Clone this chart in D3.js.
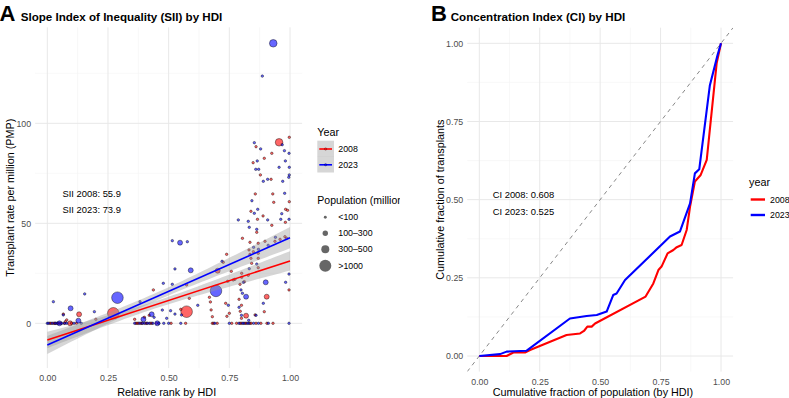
<!DOCTYPE html>
<html><head><meta charset="utf-8">
<script src="https://cdn.jsdelivr.net/npm/d3@7"></script>
<style>body{margin:0;background:#fff} text{font-family:"Liberation Sans",Arial,Helvetica,sans-serif}</style>
</head><body><svg id="c" width="789" height="398"></svg>
<script>
// ---------- DATA ----------
const yearLabels = ["2008", "2023"];
const sizeLabels = ["<100", "100–300", "300–500", ">1000"];
// [relative HDI rank, transplant rate PMP, population class 0..3]
const points2008 = [
 [.955,90.5,2],[.997,93,0],[.860,88.3,0],[.925,85,0],[.894,82.5,0],[.848,80.3,0],[.878,74.2,0],[.922,72,0],
 [.857,64.7,0],[.929,64.7,0],[.933,60.5,0],[.997,60.8,0],[.839,56,0],[.982,57,0],[.99,56.5,0],[.889,53.7,0],
 [.866,52,0],[.925,49,0],[.981,50.5,0],[.863,45.5,0],[.804,42.5,0],[.835,40.5,0],[.869,40,0],[.897,41,0],
 [.938,41,0],[.959,42,0],[.979,43.3,0],[.986,42.5,0],[.849,35.8,0],[.831,36.7,0],[.869,35,0],[.835,34.5,0],
 [.839,32.5,0],[.869,32.5,0],[.842,30,0],[.869,27.8,0],[.801,25,0],[.828,24,0],[.773,22,0],[.801,23,0],
 [.812,20.8,0],[.794,19.5,0],[.996,16.7,0],[.904,13.3,1],[.819,3.8,1],[.894,5.8,0],[.856,4.2,0],[.75,5,0],
 [.74,3.5,0],[.735,10,0],[.743,21,0],[.766,21.7,0],[.79,12,0],[.80,9,0],[.795,6,0],[.80,2.5,0],
 [.08,1.7,0],[.131,4.5,1],[.094,0,1],[.066,4.6,0],[.074,0.8,0],[.272,5,3],[.437,16.7,0],[.40,3,0],
 [.574,5.8,3],[.585,12.5,0],[.574,19.2,0],[.702,26.3,1],[.725,30.5,0],[.739,34.5,0],[.668,13,0],[.672,10.7,0],
 [.675,6.7,0],[.68,3.3,0],[.758,26,0],[.36,2,0],[.42,4,0],[.55,7,0],[.2,2,0],
 [.93,0,0],[.905,0,0],[.88,0,0],[.86,0,0],[.84,0,0],[.82,0,0],[.80,0,0],[.78,0,0],[.76,0,0],[.70,0,0],
 [.68,0,0],[.57,0,0],[.51,0,0],[.45,0,0],[.43,0,0],[.41,0,0],[.39,0,0],[.37,0,0],[.12,0,0],[.10,0,0],
 [.07,0,0],[.05,0,0],[.03,0,0],[.01,0,0],[.015,0,0],[.025,0,0],[.035,0,0],[.045,0,0],[.055,0,0],
 [.365,0,0],[.375,0,0],[.385,0,0],[.405,0,0],[.425,0,0],[.685,0,0],[.795,0,0],[.815,0,0],[.835,0,0]
];
const points2023 = [
 [.931,140,2],[.886,123.6,0],
 [.853,90.3,0],[.879,87.2,0],[.968,89.3,0],[.977,86.3,0],[.996,85,0],[.865,81.2,0],[.981,81.2,0],[.955,78,0],
 [.997,78,0],[.859,77,0],[.871,77,0],[.997,74.2,0],[.995,73,0],[.908,72,0],[.890,71,0],[.970,71,0],[.978,65,0],
 [.843,61.3,0],[.867,57,0],[.853,55,0],[.966,54.8,0],[.908,51.7,0],[.787,51.7,0],[.828,51,0],[.832,48,0],
 [.863,47,0],[.962,52,0],[.996,52,0],
 [.863,29.6,0],[.832,27.3,0],[.900,20.5,1],[.996,24.6,0],[.982,20.5,0],[.819,13.3,1],[.798,16.7,0],[.804,15,0],
 [.890,10,0],[.746,9,0],[.808,20.5,0],[.85,38,0],[.87,37,0],[.94,43,0],[.91,39,0],[.72,31,0],[.79,8,0],
 [.80,4,0],[.86,4,0],[.83,1.5,0],
 [.025,10.8,0],[.096,7.5,1],[.066,4.2,0],[.128,1.3,1],[.154,14.7,0],[.289,12.8,3],[.194,5.8,0],[.382,10.8,0],
 [.396,2,1],[.43,4.5,1],[.478,20,0],[.515,19.5,0],[.526,27.2,0],[.515,41.3,0],[.547,40.3,1],[.577,40.8,0],
 [.591,26.5,1],[.695,16.2,3],[.474,6.6,0],[.508,6.3,0],[.526,4.6,0],[.553,4.2,0],[.492,2.5,0],[.05,0,1],
 [.453,0,1],[.44,3,0],[.62,9,0],
 [.911,0,0],[.996,0,0],[.87,0,0],[.85,0,0],[.83,0,0],[.81,0,0],[.79,0,0],[.75,0,0],[.69,0,0],[.55,0,0],
 [.50,0,0],[.48,0,0],[.46,0,0],[.42,0,0],[.40,0,0],[.38,0,0],[.36,0,0],[.14,0,0],[.11,0,0],[.08,0,0],
 [.06,0,0],[.04,0,0],[.02,0,0],[0,0,0],[.005,0,0],[.032,0,0],[.072,0,0],[.392,0,0],[.412,0,0],[.435,0,0],
 [.805,0,0],[.825,0,0]
];
// linear fits (intercept, slope) and CI band shape
const fitIntercept = [-8.35, -10.8];
const fitSlope = [39.55, 53.6];
const bandMin = [1.8, 2.0];
const bandCenter = [0.45, 0.45];
const bandSpread = [0.22, 0.223];
const siiValues = ["55.9", "73.9"];
const ciValues = ["0.608", "0.525"];
// Concentration curves [cum. population, cum. transplants]
const lorenz2008 = [[0,0],[.113,0],[.141,.011],[.189,.011],[.210,.019],[.361,.067],[.417,.072],[.433,.080],
 [.447,.094],[.465,.094],[.479,.104],[.688,.190],[.720,.232],[.741,.275],[.754,.286],[.779,.328],[.803,.339],
 [.817,.348],[.837,.355],[.858,.403],[.872,.478],[.892,.558],[.916,.579],[.941,.627],[.982,.936],[1,1]];
const lorenz2023 = [[0,0],[.086,.006],[.113,.014],[.196,.017],[.375,.120],[.444,.128],[.486,.131],[.527,.142],
 [.554,.195],[.568,.200],[.603,.243],[.789,.382],[.830,.398],[.872,.488],[.892,.584],[.910,.597],[.954,.866],
 [.986,.963],[1,1]];
const xTicksA = [0, 0.25, 0.5, 0.75, 1];
const yTicksA = [0, 50, 100];
const ticksB = [0, 0.25, 0.5, 0.75, 1];

// ---------- STYLE ----------
const colors = ["#FF0000", "#0000FF"];
const radii = [1.25, 2.5, 3.8, 5.8];
const svg = d3.select("#c");
svg.append("rect").attr("width",789).attr("height",398).attr("fill","#fff");
svg.append("clipPath").attr("id","clipLeft").append("rect").attr("x",0).attr("y",0).attr("width",400).attr("height",398);

function grid(g, x, y, xt, yt, xr, yr) {
  const xm = d3.range(xt.length-1).map(i => (xt[i]+xt[i+1])/2);
  const ym = d3.range(yt.length-1).map(i => (yt[i]+yt[i+1])/2);
  const step = yt[1]-yt[0];
  ym.push(yt[yt.length-1] + step/2);
  g.selectAll(null).data(xm).join("line").attr("x1",x).attr("x2",x).attr("y1",yr[0]).attr("y2",yr[1])
    .attr("stroke","#f3f3f3").attr("stroke-width",0.6);
  g.selectAll(null).data(ym.filter(v => y(v) > yr[1] && y(v) < yr[0])).join("line").attr("y1",y).attr("y2",y).attr("x1",xr[0]).attr("x2",xr[1])
    .attr("stroke","#f3f3f3").attr("stroke-width",0.6);
  g.selectAll(null).data(xt).join("line").attr("x1",x).attr("x2",x).attr("y1",yr[0]).attr("y2",yr[1])
    .attr("stroke","#e8e8e8").attr("stroke-width",1);
  g.selectAll(null).data(yt).join("line").attr("y1",y).attr("y2",y).attr("x1",xr[0]).attr("x2",xr[1])
    .attr("stroke","#e8e8e8").attr("stroke-width",1);
}
function axes(x, y, xt, yt, xr, yr, fmtX, fmtY) {
  const ax = svg.append("g").attr("transform",`translate(0,${yr[0]})`)
    .call(d3.axisBottom(x).tickValues(xt).tickSize(0).tickPadding(7).tickFormat(fmtX));
  const ay = svg.append("g").attr("transform",`translate(${xr[0]},0)`)
    .call(d3.axisLeft(y).tickValues(yt).tickSize(0).tickPadding(4).tickFormat(fmtY));
  [ax, ay].forEach(a => { a.select(".domain").remove();
    a.selectAll("text").attr("fill","#4d4d4d").style("font-size","8.8px")
     .style("font-family",'"Liberation Sans",Arial,sans-serif'); });
}

// ---------- PANEL A ----------
const xA = d3.scaleLinear([0,1],[47.3,290]);
const yA = d3.scaleLinear([0,100],[323.3,123.3]);
const xrA = [xA(-0.05), xA(1.05)], yrA = [yA(-22.4), yA(148)];
const gA = svg.append("g");
grid(gA, xA, yA, xTicksA, yTicksA, xrA, yrA);
svg.append("clipPath").attr("id","clipA").append("rect")
  .attr("x",xrA[0]).attr("y",yrA[1]).attr("width",xrA[1]-xrA[0]).attr("height",yrA[0]-yrA[1]);
const pA = svg.append("g").attr("clip-path","url(#clipA)");
[points2008, points2023].forEach((pts, k) => {
  pA.append("g").selectAll("circle").data(pts).join("circle")
    .attr("cx", d => xA(d[0])).attr("cy", d => yA(d[1])).attr("r", d => radii[d[2]])
    .attr("fill", colors[k]).attr("fill-opacity",0.6)
    .attr("stroke","#000").attr("stroke-opacity",0.75).attr("stroke-width",0.55);
});
const xs = d3.range(0, 1.0001, 0.02);
const half = (k, x) => bandMin[k]*Math.sqrt(1 + ((x-bandCenter[k])/bandSpread[k])**2);
const fitv = (k, x) => fitIntercept[k] + fitSlope[k]*x;
[0,1].forEach(k => {
  pA.append("path").datum(xs)
    .attr("d", d3.area().x(d => xA(d)).y0(d => yA(fitv(k,d)-half(k,d))).y1(d => yA(fitv(k,d)+half(k,d))))
    .attr("fill","#999999").attr("fill-opacity",0.4);
});
[0,1].forEach(k => {
  pA.append("path").datum([0,1])
    .attr("d", d3.line().x(d => xA(d)).y(d => yA(fitv(k,d))))
    .attr("stroke", colors[k]).attr("stroke-width",1.6).attr("fill","none");
});
axes(xA, yA, xTicksA, yTicksA, xrA, yrA, d3.format(".2f"), d3.format("d"));
svg.append("text").attr("x",62.5).attr("y",193.5).attr("dominant-baseline","central")
  .style("font-size","9.4px").text(`SII ${yearLabels[0]}: ${siiValues[0]}`);
svg.append("text").attr("x",62.5).attr("y",209.5).attr("dominant-baseline","central")
  .style("font-size","9.4px").text(`SII ${yearLabels[1]}: ${siiValues[1]}`);
svg.append("text").attr("x",(xrA[0]+xrA[1])/2-2).attr("y",391.5).attr("text-anchor","middle")
  .attr("dominant-baseline","central").style("font-size","10.8px").text("Relative rank by HDI");
svg.append("text").attr("transform",`translate(10,${(yrA[0]+yrA[1])/2}) rotate(-90)`).attr("text-anchor","middle")
  .attr("dominant-baseline","central").style("font-size","10.8px").text("Transplant rate per million (PMP)");
svg.append("text").attr("x",-0.5).attr("y",20.7).style("font-size","22px").style("font-weight","bold").text("A");
svg.append("text").attr("x",20.7).attr("y",20.5).style("font-size","11.6px").style("font-weight","bold")
  .text("Slope Index of Inequality (SII) by HDI");

// legend A (clipped to the left half, as in the reference)
const legA = svg.append("g").attr("clip-path","url(#clipLeft)");
legA.append("text").attr("x",317.3).attr("y",132).attr("dominant-baseline","central").style("font-size","10.8px").text("Year");
yearLabels.forEach((lab, k) => {
  const cy = 149 + k*15.8;
  legA.append("rect").attr("x",317.3).attr("y",cy-8.3).attr("width",16.7).attr("height",16)
    .attr("fill","#999999").attr("fill-opacity",0.4);
  legA.append("line").attr("x1",319.3).attr("x2",332).attr("y1",cy).attr("y2",cy)
    .attr("stroke",colors[k]).attr("stroke-width",1.6);
  legA.append("circle").attr("cx",325.6).attr("cy",cy).attr("r",1.2).attr("fill",colors[k]).attr("fill-opacity",0.6)
    .attr("stroke","#000").attr("stroke-opacity",0.5).attr("stroke-width",0.5);
  legA.append("text").attr("x",338.3).attr("y",cy).attr("dominant-baseline","central").style("font-size","8.8px").text(lab);
});
legA.append("text").attr("x",317.3).attr("y",200).attr("dominant-baseline","central").style("font-size","10.5px").text("Population (millions)");
sizeLabels.forEach((lab, k) => {
  const cy = [217.3,233.3,249.3,265.7][k];
  legA.append("circle").attr("cx",325.3).attr("cy",cy).attr("r",radii[k]+0.2).attr("fill","#000").attr("fill-opacity",0.6);
  legA.append("text").attr("x",338.3).attr("y",cy).attr("dominant-baseline","central").style("font-size","8.8px").text(lab);
});

// ---------- PANEL B ----------
const xB = d3.scaleLinear([0,1],[479.3,721]);
const yB = d3.scaleLinear([0,1],[356,43.3]);
const xrB = [xB(-0.05), xB(1.05)], yrB = [yB(-0.05), yB(1.05)];
const gB = svg.append("g");
grid(gB, xB, yB, ticksB, ticksB, xrB, yrB);
svg.append("clipPath").attr("id","clipB").append("rect")
  .attr("x",xrB[0]).attr("y",yrB[1]).attr("width",xrB[1]-xrB[0]).attr("height",yrB[0]-yrB[1]);
const pB = svg.append("g").attr("clip-path","url(#clipB)");
pB.append("line").attr("x1",xB(-0.05)).attr("y1",yB(-0.05)).attr("x2",xB(1.05)).attr("y2",yB(1.05))
  .attr("stroke","#7a7a7a").attr("stroke-width",0.9).attr("stroke-dasharray","4,4");
[lorenz2008, lorenz2023].forEach((pts, k) => {
  pB.append("path").datum(pts).attr("d", d3.line().x(d => xB(d[0])).y(d => yB(d[1])))
    .attr("stroke",colors[k]).attr("stroke-width",2.1).attr("fill","none").attr("stroke-linejoin","round");
});
axes(xB, yB, ticksB, ticksB, xrB, yrB, d3.format(".2f"), d3.format(".2f"));
svg.append("text").attr("x",492.7).attr("y",194.5).attr("dominant-baseline","central")
  .style("font-size","9.4px").text(`CI ${yearLabels[0]}: ${ciValues[0]}`);
svg.append("text").attr("x",492.7).attr("y",211).attr("dominant-baseline","central")
  .style("font-size","9.4px").text(`CI ${yearLabels[1]}: ${ciValues[1]}`);
svg.append("text").attr("x",593).attr("y",391.5).attr("text-anchor","middle")
  .attr("dominant-baseline","central").style("font-size","10.8px").text("Cumulative fraction of population (by HDI)");
svg.append("text").attr("transform",`translate(439.5,${(yrB[0]+yrB[1])/2}) rotate(-90)`).attr("text-anchor","middle")
  .attr("dominant-baseline","central").style("font-size","10.8px").text("Cumulative fraction of transplants");
svg.append("text").attr("x",431).attr("y",20.7).style("font-size","22px").style("font-weight","bold").text("B");
svg.append("text").attr("x",450.7).attr("y",20.5).style("font-size","11.6px").style("font-weight","bold")
  .text("Concentration Index (CI) by HDI");
svg.append("text").attr("x",749).attr("y",182).attr("dominant-baseline","central").style("font-size","10.8px").text("year");
yearLabels.forEach((lab, k) => {
  const cy = 199.5 + k*15.5;
  svg.append("line").attr("x1",750.7).attr("x2",765).attr("y1",cy).attr("y2",cy)
    .attr("stroke",colors[k]).attr("stroke-width",2.4);
  svg.append("text").attr("x",770).attr("y",cy).attr("dominant-baseline","central").style("font-size","8.8px").text(lab);
});
</script></body></html>
